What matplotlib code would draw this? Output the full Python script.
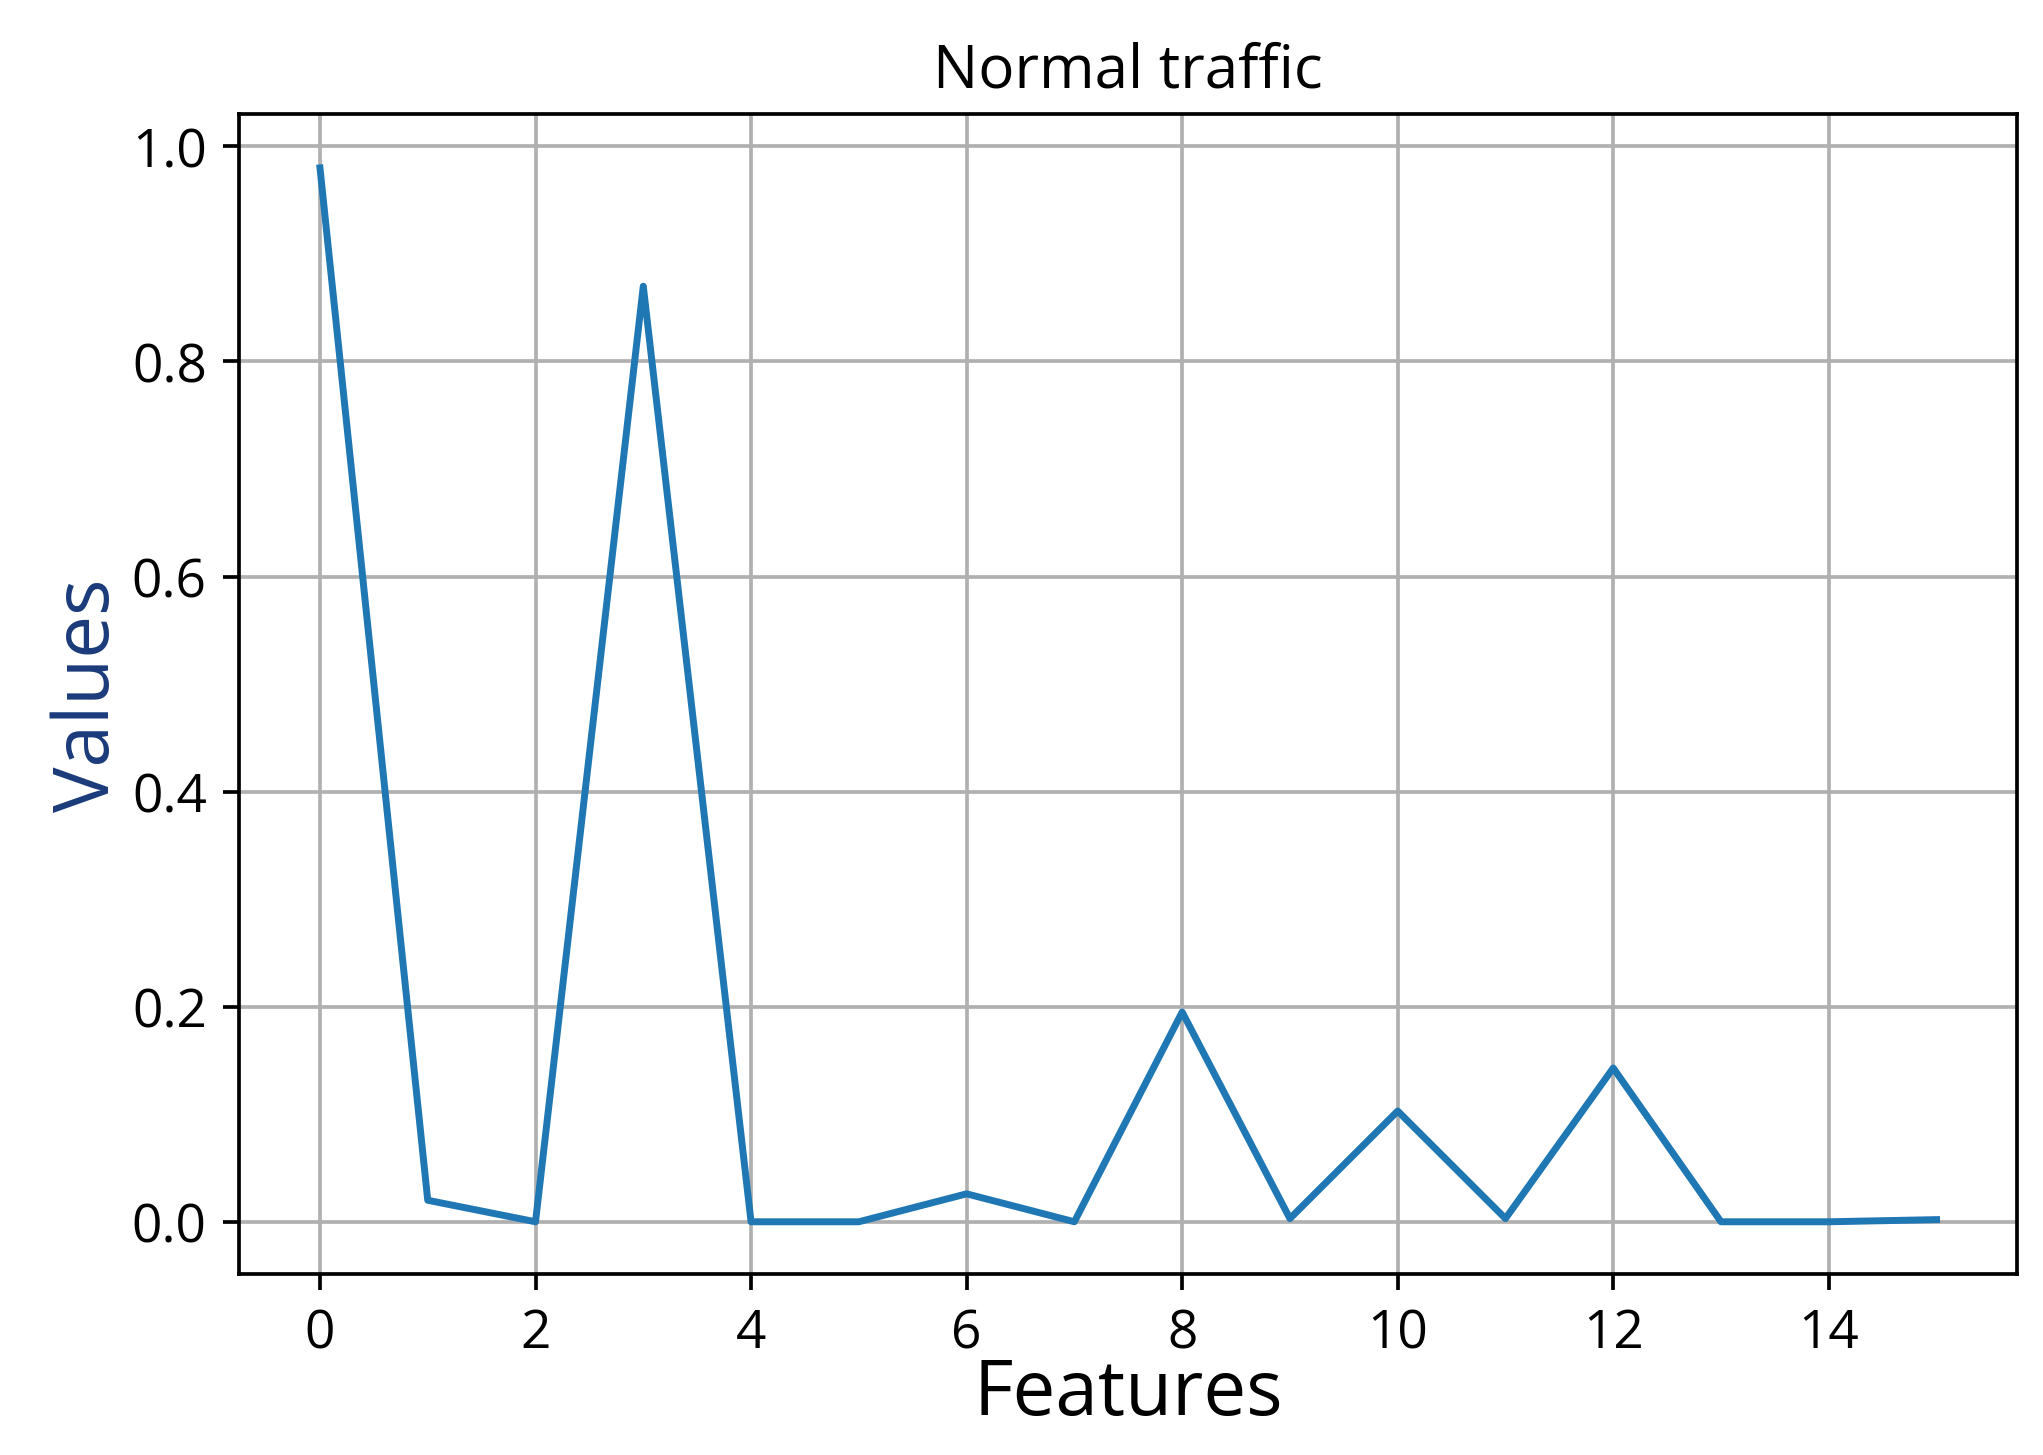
import matplotlib
matplotlib.use('Agg')
import matplotlib.pyplot as plt

plt.rcParams['font.family'] = ['Open Sans', 'DejaVu Sans']

features = list(range(16))
values = [0.98, 0.02, 0.0, 0.87, 0.0, 0.0, 0.026, 0.0, 0.195, 0.003, 0.103, 0.003, 0.143, 0.0, 0.0, 0.002]

fig = plt.figure(figsize=(6.138, 4.372), dpi=333)
ax = fig.add_axes([0.117, 0.124, 0.870, 0.797])
ax.plot(features, values, color='#1f77b4', linewidth=1.5)
ax.set_xticks(range(0, 16, 2))
ax.set_yticks([0.0, 0.2, 0.4, 0.6, 0.8, 1.0])
ax.set_ylim(-0.049, 1.03)
ax.tick_params(labelsize=11.5)
ax.grid(True, color='#b0b0b0', linewidth=0.8)
ax.set_title('Normal traffic', fontsize=13)
ax.set_xlabel('Features', fontsize=16.5, labelpad=-1)
ax.set_ylabel('Values', fontsize=16.5, color='#1a3a7a', labelpad=1)
fig.savefig('out.png')
